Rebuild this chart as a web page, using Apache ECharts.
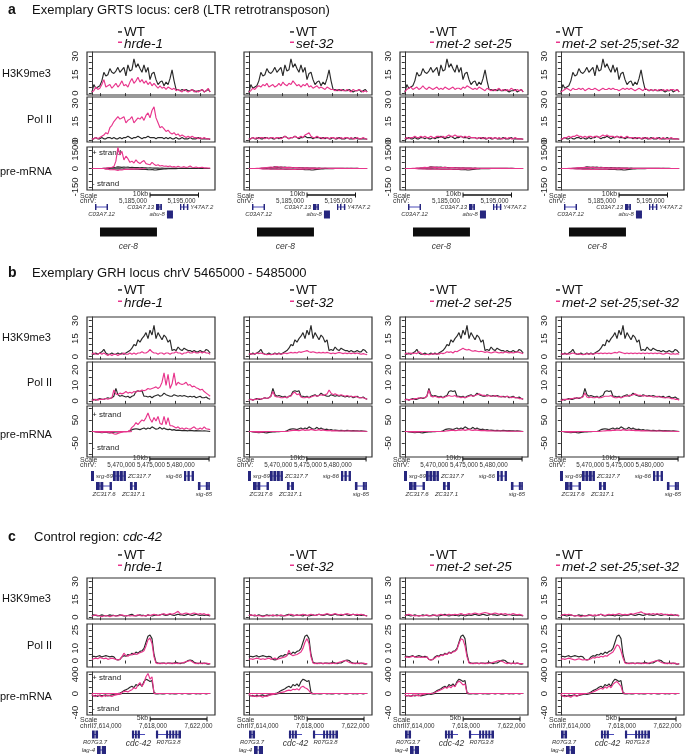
<!DOCTYPE html>
<html>
<head>
<meta charset="utf-8">
<script src="https://cdn.jsdelivr.net/npm/echarts@6.0.0/dist/echarts.min.js"></script>
<style>
html,body{margin:0;padding:0;background:#fff;}
#chart{width:685px;height:755px;}
</style>
</head>
<body>
<div id="chart"></div>
<script>
// ================= DATA =================
const mutantNames = ['hrde-1', 'set-32', 'met-2 set-25', 'met-2 set-25;set-32'];
const trackNames = ['H3K9me3', 'Pol II', 'pre-mRNA'];
const panelLetters = ['a', 'b', 'c'];
const titleA = 'Exemplary GRTS locus: cer8 (LTR retrotransposon)';
const titleB = 'Exemplary GRH locus chrV 5465000 - 5485000';
const titleC = 'Control region: ';
const titleCItalic = 'cdc-42';

// y-axis tick values / tick labels
const h3Ticks = [0, 5, 10, 15, 20, 25, 30];
const h3Labels = [0, 15, 30];
const a_polTicks = [0, 5, 10, 15, 20, 25, 30];
const a_polLabels = [0, 15, 30];
const a_preTicks = [-1500, -1000, -500, 0, 500, 1000, 1500];
const a_preLabels = [-1500, 0, 1500];
const b_polTicks = [0, 5, 10, 15, 20];
const b_polLabels = [0, 10, 20];
const b_preTicks = [-100, -50, 0, 50, 100];
const b_preLabels = [-50, 50];
const c_polTicks = [0, 5, 10, 15, 20, 25];
const c_polLabels = [0, 10, 25];
const c_preTicks = [-400, -266.7, -133.3, 0, 133.3, 266.7, 400];
const c_preLabels = [-400, 0, 400];

// ---------- Panel a : cer8 ----------
const a_h3_wt = [0.5,7,4,5,6,10,17,14,15,20, 17,16,18,21,17,19,21,14,23,18, 19,28,21,24,20,17,23,17,21,11, 16,17,11,7,9,10,6,9,7,12, 19,10,3,3,2,3,2,3,2,2, 3,2,1,2,2,3,1,2,3,1];
const a_h3_hrde1 = [1,2,5,3,4,7,11,5,6,7, 4,6,8,5,7,10,6,7,5,9, 12,8,10,13,9,11,8,10,7,9, 6,8,6,4,6,4,5,3,5,4, 3,4,2,3,2,1,3,2,1,2, 3,1,2,1,2,3,1,2,4,1];
const a_h3_set32 = [1,2,4,3,5,6,5,7,6,8, 5,6,7,5,6,8,6,9,7,6, 8,7,10,8,6,7,5,7,6,8, 5,6,4,5,6,4,5,4,3,5, 4,3,3,2,3,2,3,2,2,3, 2,1,3,2,2,3,2,1,2,1];
const a_h3_met2set25 = [1,3,4,5,3,4,5,3,4,6, 4,3,5,4,3,4,5,3,4,3, 5,4,3,4,5,3,4,4,3,5, 4,6,5,4,3,4,3,5,4,3, 2,4,3,2,3,2,3,4,2,3, 2,3,2,4,3,2,3,2,3,1];
const a_h3_triple = [1,2,3,4,3,2,4,3,3,4, 3,4,2,3,4,3,3,4,3,2, 3,4,3,3,4,3,4,3,3,2, 3,4,3,4,3,4,3,2,3,4, 3,2,4,3,2,3,2,3,2,3, 2,3,2,3,2,3,3,2,3,1];

const a_pol_wt = [1,1,2,1,1,2,1,1,2,2, 1,2,1,1,2,1,2,2,3,2, 1,2,2,3,2,1,2,2,3,2, 2,2,1,2,2,2,1,2,1,2, 1,1,2,1,1,2,1,1,1,2, 1,1,1,2,1,1,1,1,1,0.5];
const a_pol_hrde1 = [1,1,2,1,2,3,4,6,5,10, 12,15,17,19,17,18,19,14,16,17, 19,14,16,18,17,19,16,20,22,18, 24,27,18,14,10,11,9,7,8,6, 5,6,4,5,3,4,3,2,3,2, 3,2,2,1,2,1,2,1,1,1];
const a_pol_set32 = [1,1,2,1,2,1,2,2,1,2, 1,2,2,1,2,2,1,2,3,2, 1,2,2,3,2,2,3,2,4,5, 6,3,2,2,3,2,2,1,2,2, 1,2,2,1,2,1,2,1,2,2, 1,2,1,1,2,1,1,2,1,0.5];
const a_pol_met2set25 = [1,2,1,2,2,3,2,2,3,2, 3,2,2,3,2,2,3,3,2,3, 2,3,4,3,3,4,3,3,3,2, 3,2,3,2,2,2,1,2,2,1, 2,1,2,2,1,2,1,2,1,1, 2,1,2,1,1,2,1,1,1,0.5];
const a_pol_triple = [1,1,2,2,3,2,3,3,4,3, 3,2,3,2,3,3,2,3,3,2, 3,4,3,4,3,3,3,2,3,2, 3,2,2,3,2,2,2,1,2,2, 1,2,1,2,1,1,2,1,2,1, 1,2,1,1,1,2,1,1,1,0.5];

const a_pre_wt_plus = [0,0,0,0,0,0,10,20,30,40, 60,80,100,130,110,90,120,100,110,80, 90,70,80,70,60,70,60,50,40,50, 40,30,40,30,20,30,20,20,20,10, 20,10,10,10,10,10,10,5,5,10, 5,5,5,5,5,0,0,0,0,0];
const a_pre_wt_minus = [0,0,0,0,0,0,0,-1,-1,-2, -2,-3,-3,-2,-3,-4,-3,-4,-5,-4, -5,-6,-5,-6,-7,-6,-8,-7,-9,-10, -8,-11,-12,-9,-8,-6,-4,-3,-2,-2, -1,-1,-1,0];
const a_pre_hrde1_plus = [0,0,0,0,0,0,20,30,50,80, 100,150,600,1720,1100,1400,700,1000,800,500, 600,450,700,500,400,550,650,400,350,300, 500,350,250,300,200,250,180,200,150,200, 120,150,100,180,120,100,150,80,120,200, 100,80,120,60,80,100,50,60,40,30];
const a_pre_hrde1_minus = [0,0,0,0,0,0,0,-5,-5,-10, -10,-8,-12,-15,-10,-12,-8,-5,-8,-5, -3,-5,-3,-2,-3,-2,-2,0];
const a_pre_set32_plus = [0,0,0,0,10,20,30,50,60,80, 100,120,90,110,150,100,120,90,80,100, 70,90,60,80,70,50,60,40,50,60, 40,30,40,30,20,30,20,20,30,20, 10,20,10,10,20,10,10,10,0,10, 0,10,0,0,10,0,0,0,0,0];
const a_pre_set32_minus = [0,0,0,0,0,0,-2,-3,-2,-4, -3,-5,-4,-3,-5,-4,-6,-5,-4,-3, -5,-6,-8,-7,-5,-6,-4,-5,-3,-4, -2,-3,-2,-1,-2,-1,0];
const a_pre_met2set25_plus = [0,0,0,0,10,20,30,40,60,70, 90,80,100,120,90,110,80,90,70,80, 90,70,60,80,70,60,50,60,40,50, 40,30,40,30,20,30,20,20,10,20, 10,10,10,10,10,5,10,5,5,5, 5,5,0,5,0,0,0,0,0,0];
const a_pre_met2set25_minus = [0,0,0,0,0,0,-1,-2,-2,-3, -2,-4,-3,-5,-4,-3,-5,-4,-6,-5, -4,-6,-5,-7,-6,-5,-6,-4,-5,-3, -4,-3,-2,-3,-2,-1,-1,0];
const a_pre_triple_plus = [0,0,0,0,10,20,20,40,50,70, 60,80,90,70,100,80,90,70,60,80, 60,70,50,60,50,40,50,40,30,40, 30,30,20,30,20,20,10,20,10,10, 10,10,5,10,5,5,5,5,5,5, 0,5,0,0,0,0,0,0,0,0];
const a_pre_triple_minus = [0,0,0,0,0,-1,-2,-2,-3,-4, -3,-5,-4,-6,-5,-7,-6,-5,-7,-6, -5,-6,-4,-5,-4,-3,-4,-3,-2,-3, -2,-1,-2,-1,0];

// panel a genome browser track (chrV)
const a_viewStart = 5175500, a_viewEnd = 5201900;
const a_chrom = 'chrV:';
const a_scaleText = '10kb', a_scaleStart = 5188500, a_scaleEnd = 5198500;
const a_posTicks = [5185000, 5195000];
const a_geneName = ['C03A7.12', 'C03A7.13', 'Y47A7.2', 'abu-8'];
const a_geneStart = [5177150, 5189730, 5194680, 5191990];
const a_geneEnd = [5179830, 5190960, 5196400, 5193230];
const a_geneLane = [0, 0, 0, 1];
const a_geneExons = [[[5177150,5177450],[5179530,5179830]], [[5189730,5190450],[5190600,5190960]], [[5194680,5194950],[5195300,5195600],[5196100,5196400]], [[5191990,5193230]]];
const a_geneLabelSide = ['below', 'left', 'right', 'left'];
const a_repeatName = 'cer-8', a_repeatStart = 5178180, a_repeatEnd = 5189930;

// ---------- Panel b : GRH locus ----------
const b_h3_wt = [2,2,3,2,3,4,6,3,2,2, 3,2,2,3,2,3,2,3,4,5, 7,10,9,14,12,15,17,20,15,22, 18,26,15,20,17,14,18,16,12,14, 5,6,5,8,6,5,7,6,5,5, 4,5,4,4,5,4,4,6,5,3];
const b_h3_hrde1 = [2,3,2,2,3,2,3,2,1,2, 1,2,2,1,2,2,3,2,2,3, 2,3,2,3,3,4,3,3,4,6, 4,3,3,2,3,3,2,3,3,2, 3,3,4,3,3,2,3,3,4,3, 3,4,3,3,4,3,4,3,3,2];
const b_h3_set32 = [2,2.5,2,2.5,3,2.5,3,2.5,2,1.5, 2,1.5,2,2.5,2,2.5,2,2.5,3,2.5, 3,3.5,3,3.5,3,4,3.5,4,4.5,5, 4,3.5,4,3.5,3,3.5,3,3.5,3,3.5, 3,2.5,3,2.5,3,3.5,3,2.5,3,2.5, 3,2.5,3,2.5,3,2.5,2,2.5,2,1.5];
const b_h3_met2set25 = [2,3,2,3,2.5,3,2.5,4,3,2, 1.5,2,1.5,2,2.5,2,2.5,2,3,2.5, 3,4,3.5,4,3,4.5,4,5,6,7, 6,5.5,6,5,4.5,5,4.5,4,4.5,4, 3.5,4,3.5,3,3.5,4,3.5,3,3.5,3, 4,3.5,3,3.5,3,3.5,4,3.5,3,2.5];
const b_h3_triple = [2,2.5,2,2.5,2,2.5,3,2.5,2,2.5, 2,1.5,2,2.5,2,2.5,2,2.5,3,2.5, 3,2.5,3,2.5,3,2.5,3,3.5,3,4, 3.5,3,2.5,3,2.5,3,2.5,3,2.5,3, 2.5,3,2.5,3,2.5,3,2.5,3,2.5,3, 2.5,2,2.5,3,2.5,2,2.5,2,2.5,2];

const b_pol_wt = [0.5,1,0.5,1,1.5,1,1,1.5,2,1.5, 2,3,8,4,3,3.5,3,2.5,3,2, 3,3.5,6,6.5,6,6.5,3,3,2.5,3, 2,3,3.5,4,3,3.5,5,4,3.5,3, 3,4,3.5,3,3.5,3,3.5,3,2.5,3, 2.5,3,2,2.5,3,2,2,2.5,1.5,1];
const b_pol_hrde1 = [0.5,0.5,1,0.5,1,1,1,1.5,1,1.5, 2,7,4.5,4,5,4.5,5,6,5,5.5, 5,6,5.5,6.5,6,7,6.5,7,8,7.5, 8,8.5,9,8,9,12,18,10,17,8, 11,18,10,12,11,10.5,11,12,10,10.5, 9,9.5,8.5,8,7,7.5,6,5,4,3];
const b_pol_set32 = [0.5,1,0.5,1,1,1.5,1,1.5,2,1.5, 2,3,6,3,2.5,2.5,2,2,2.5,2, 3,3,5,5.5,4,4.5,2.5,2,2,2.5, 2,2.5,3,3.5,3,3.5,4,3.5,4,4.5, 7,5,4,4.5,4,3.5,4,3.5,3,3.5, 3,3,2.5,3,2.5,2,2,2,1.5,1];
const b_pol_met2set25 = [0.5,1,0.5,1,1,1.5,1.5,2,1.5,2, 2,3,7,3,2.5,3,2.5,2,2.5,2, 2.5,3,3.5,3,3,3.5,2.5,2.5,2,2.5, 2,2.5,3,3.5,3,3.5,4,4.5,4,3.5, 3.5,3,3.5,3,3,3.5,3,2.5,3,2.5, 2.5,3,2.5,2,2.5,2,2,1.5,1.5,1];
const b_pol_triple = [0.5,0.5,1,1,1,1.5,1.5,2,1.5,2, 2,2.5,5,2.5,2,2.5,2,2,2.5,2, 2,2.5,3,3,3,3.5,2.5,2,2,2.5, 2,2.5,3,3,3.5,3.5,4,4.5,4,3.5, 3.5,3,3.5,3,3,3,2.5,2.5,3,2.5, 2.5,2,2,2,2,1.5,1.5,1,1,0.5];

const b_pre_wt_plus = [0,0,0,0,0,0,0,0,0,0, 0,0,0,0,0,0,0,0,0,3, 8,10,12,10,8,12,15,10,15,12, 20,15,10,12,18,10,15,10,8,10, 6,8,5,6,5,4,5,4,3,5, 4,3,4,3,3,2,3,2,1,0];
const b_pre_wt_minus = [0,0,-2,-3,-4,-5,-4,-3,-5,-6, -4,-3,-2,-2,-1,-1,0];
const b_pre_hrde1_plus = [0,0,0,0,0,0,0,0,0,0, 0,0,0,0,0,0,0,0,0,5, 18,25,38,30,40,50,45,60,80,55, 40,60,45,65,35,30,65,30,60,25, 25,20,15,20,12,15,10,15,12,10, 15,20,12,10,15,10,20,12,10,8];
const b_pre_hrde1_minus = [0,0,-2,-3,-2,-4,-3,-2,-3,-5, -6,-10,-12,-8,-5,-3,-2,-2,-1,-1,0];
const b_pre_set32_plus = [0,0,0,0,0,0,0,0,0,0, 0,0,0,0,0,0,0,0,0,0, 2,4,5,6,5,4,6,8,5,7, 6,9,7,5,6,8,5,7,5,4, 5,3,4,3,3,3,2,3,2,2, 3,2,2,2,2,1,1,1,1,0];
const b_pre_set32_minus = [0,0,-1,-2,-3,-2,-3,-2,-1,-1,0];
const b_pre_met2set25_plus = [0,0,0,0,0,0,0,0,0,0, 0,0,0,0,0,0,0,0,0,0, 1,3,4,5,6,4,5,7,6,8, 5,7,9,6,5,7,6,5,4,5, 4,3,4,3,2,3,2,3,2,2, 2,1,2,1,1,1,1,1,0,0];
const b_pre_met2set25_minus = [0,0,-1,-2,-2,-3,-2,-2,-1,0];
const b_pre_triple_plus = [0,0,0,0,0,0,0,0,0,0, 0,0,0,0,0,0,0,0,0,0, 1,2,3,4,5,4,6,5,7,6, 5,8,6,5,7,5,6,4,5,4, 3,4,3,3,2,3,2,2,3,2, 2,1,2,1,1,1,1,0,0,0];
const b_pre_triple_minus = [0,0,-1,-2,-3,-3,-2,-2,-1,-1,0];

// panel b genome browser track (chrV)
const b_viewStart = 5464200, b_viewEnd = 5485800;
const b_chrom = 'chrV:';
const b_scaleText = '10kb', b_scaleStart = 5474800, b_scaleEnd = 5484800;
const b_posTicks = [5470000, 5475000, 5480000];
const b_geneName = ['srg-69', 'ZC317.7', 'ZC317.6', 'ZC317.1', 'sig-66', 'sig-65'];
const b_geneStart = [5464870, 5468580, 5465720, 5471450, 5480570, 5482920];
const b_geneEnd = [5465380, 5470770, 5468410, 5472630, 5482250, 5484940];
const b_geneLane = [0, 0, 1, 1, 0, 1];
const b_geneExons = [[[5464870,5465380]], [[5468580,5469050],[5469150,5469650],[5469750,5470250],[5470350,5470770]], [[5465720,5466350],[5466450,5466950],[5468000,5468410]], [[5471450,5471900],[5472150,5472630]], [[5480570,5480950],[5481150,5481550],[5481850,5482250]], [[5482920,5483350],[5484250,5484600],[5484650,5484940]]];
const b_geneLabelSide = ['right', 'right', 'below', 'below', 'left', 'below'];

// ---------- Panel c : cdc-42 control ----------
const c_h3_wt = [1.5,2,1.5,1,1.5,2,1.5,1,1.5,2, 1.5,1.5,1,1.5,2,1.5,1,1,1.5,2, 2.5,1.5,1,1.5,2,1.5,1.5,1,2,1.5, 1,1.5,2,1.5,2,2.5,2,1.5,2,2.5, 2,1.5,2,2.5,2,2,1.5,2,2.5,2, 1.5,2,2.5,2,1.5,2,1.5,2,1.5,1];
const c_h3_hrde1 = [1,1.5,2,1.5,1,0.5,1,1.5,1,0.5, 1,1.5,1,1,1.5,2,1.5,1,1.5,1, 1.5,1,1.5,2,1.5,1,1.5,1,2,1.5, 2,2.5,2,1.5,2,2.5,3,2,2.5,3, 2.5,3,4,5,3,2.5,3,3.5,3,2.5, 3,3.5,3,2.5,3,2.5,3,2,2.5,1.5];
const c_h3_set32 = [1.5,2,1.5,2,1,1.5,1,0.5,1,1.5, 1,1.5,2,1.5,1,1.5,2,1.5,1,1.5, 2,2.5,2,1.5,2,1.5,2,2.5,2,1.5, 2,2.5,2,1.5,2,2.5,2,2,2.5,3, 2.5,2,2.5,3,2.5,2,2.5,2,2.5,3, 2.5,2,2.5,2,2.5,2,2.5,2,1.5,1];
const c_h3_met2set25 = [1.5,2,2.5,2,1.5,1,1.5,1,1.5,1, 1.5,2,1.5,1,1.5,2,1.5,2,2.5,2, 1.5,2,2.5,2,2,2.5,2,2.5,3,2.5, 2,2.5,3,2.5,3,3.5,3,2.5,3,3.5, 4,3.5,3,2.5,3,3.5,3,2.5,3,2.5, 3,2.5,2,2.5,3,2.5,2,2.5,2,1.5];
const c_h3_triple = [1.5,2,2.5,2,2.5,2,1.5,1,1.5,1, 0.5,1,1.5,1,1.5,2,1.5,2,1.5,2, 2.5,2,1.5,2,2.5,2,2.5,2,2.5,3, 2.5,2,2.5,2,2.5,3,2.5,3,3.5,4, 4.5,3.5,3,2.5,3,2.5,3,2.5,3,2.5, 3,2.5,2,2.5,2,2.5,2,1.5,2,1.5];

const c_pol_wt = [3,3.5,3,3.5,4,3,3.5,4,3.5,3, 3.5,3,1,0.5,1,3,4,3.5,5,4.5, 6,5,7,6,7.5,8,10,15,20,21, 18,5,-1.5,-2,-2.5,-2,-2,-2.5,-2,-2, -2.5,-2,-1.5,-2,-2.5,-2,-2,-1,0,0.5, 0,-1.5,-2,-2.5,-2,-2.5,-2,-2.5,-3,-2.5];
const c_pol_hrde1 = [1,1.5,2,1.5,2.5,2,1.5,2,1,1.5, 2,1.5,1,0.5,1,3,6,4,3.5,5, 4.5,6,5,5.5,6.5,7,8,12,17,18.5, 14,3,-2,-2.5,-2,-2.5,-2,-2.5,-2,-2.5, -2,-2.5,-2,-2.5,-2,-2,-1.5,-1,-0.5,0, -1,-2,-2.5,-2,-2.5,-2,-2.5,-2,-2.5,-2.5];
const c_pol_set32 = [1,1.5,1,1.5,2,1.5,1,1.5,1,1.5, 2,1,1.5,2,1,1.5,2,2.5,3,4, 8.5,5,4,4.5,5,6,7,10,15,18, 14,3,-2,-2.5,-2,-2.5,-2,-2.5,-2,-2.5, -2,-2.5,-2,-2.5,-2,-1.5,-1,-0.5,0,-0.5, -1.5,-2,-2.5,-2,-2.5,-2,-2.5,-2,-2.5,-2.5];
const c_pol_met2set25 = [2.5,3,2.5,3,3.5,3,2.5,3,2.5,3, 2.5,3,1,0.5,1,2,3.5,3,4.5,4, 5.5,5,6.5,6,7,7.5,9,14,18,17, 12,3,-2,-2.5,-2,-2.5,-2,-2.5,-2,-2.5, -2,-2.5,-2,-2,-1.5,-1,-0.5,0,-0.5,-1, -2,-2.5,-2,-2.5,-2,-2.5,-2,-2.5,-2.5,-2.5];
const c_pol_triple = [1,1.5,1,1.5,2,1.5,1,0.5,1,1.5, 1,0.5,1,0.5,1,1.5,2.5,2,3,2.5, 3.5,3,4,3.5,5,6,7,10,13,12, 8,2,-2,-2.5,-2,-2.5,-2,-2.5,-2,-2.5, -2,-2.5,-2,-2.5,-2,-1.5,-1,-0.5,0,-0.5, -1.5,-2,-2.5,-2,-2.5,-2,-2.5,-2,-3,-2.5];

const c_pre_wt_plus = [0,0,0,0,0,0,0,0,0,0, 0,0,0,0,10,30,60,80,100,130, 150,120,190,160,200,150,250,300,280,250, 270,20,0,0,0,0,0,0,0,0, 0,0,0,0,0,0,0,0,0,0, 0,0,0,0,0,0,0,0,0,0];
const c_pre_wt_minus = [-3,-5,-4,-6,-3,-5,-4,-3,-5,-4, -3,-2,-1,-2,-1,0,0,0,0,0, 0,0,0,0,0,0,0,0,0,0, 0,0,-1,-1,0,-1,-1,0,0,-1, 0,-1,-1,0,0,-1,0,0,-1,-1, 0,0,-1,0,-1,0,0,-1,0,0];
const c_pre_hrde1_plus = [0,0,0,0,0,0,0,0,0,0, 0,0,0,0,0,20,40,50,30,60, 80,120,100,180,230,150,220,350,420,300, 350,0,0,0,0,0,0,0,0,0, 0,0,0,0,0,0,0,0,0,0, 0,0,0,0,0,0,0,0,0,0];
const c_pre_hrde1_minus = [-2,-5,-6,-3,-5,-7,-4,-6,-3,-5, -6,-4,-3,-2,-1,0];
const c_pre_set32_plus = [0,0,0,0,0,0,0,0,0,0, 0,0,0,0,0,10,20,30,40,60, 70,60,90,80,100,70,130,150,120,100, 60,0,0,0,0,0,0,0,0,0, 0,0,0,0,0,0,0,0,0,0, 0,0,0,0,0,0,0,0,0,0];
const c_pre_set32_minus = [-2,-4,-6,-5,-7,-4,-6,-8,-5,-6, -4,-3,-2,-1,0];
const c_pre_met2set25_plus = [0,0,0,0,0,0,0,0,0,0, 0,0,0,0,5,20,40,60,80,100, 130,110,150,120,170,140,220,260,230,180, 200,10,0,0,0,0,0,0,0,0, 0,0,0,0,0,0,0,0,0,0, 0,0,0,0,0,0,0,0,0,0];
const c_pre_met2set25_minus = [-3,-5,-4,-6,-5,-3,-4,-5,-3,-2, -1,0];
const c_pre_triple_plus = [0,0,0,0,0,0,0,0,0,0, 0,0,0,0,5,15,30,50,70,90, 110,90,140,110,160,120,190,230,250,200, 150,10,0,0,0,0,0,0,0,0, 0,0,0,0,0,0,0,0,0,0, 0,0,0,0,0,0,0,0,0,0];
const c_pre_triple_minus = [-2,-5,-7,-4,-6,-8,-5,-4,-6,-3, -2,-1,0];

// panel c genome browser track (chrII)
const c_viewStart = 7612200, c_viewEnd = 7623450;
const c_chrom = 'chrII:';
const c_scaleText = '5kb', c_scaleStart = 7617750, c_scaleEnd = 7622750;
const c_posTicks = [7614000, 7618000, 7622000];
const c_geneName = ['R07G3.7', 'cdc-42', 'R07G3.8', 'lag-4'];
const c_geneStart = [7612640, 7616150, 7618260, 7613080];
const c_geneEnd = [7613170, 7617300, 7620460, 7613870];
const c_geneLane = [0, 0, 0, 1];
const c_geneExons = [[[7612640,7612880],[7612940,7613170]], [[7616150,7616330],[7616400,7616580],[7616650,7616850]], [[7618260,7618450],[7619150,7619330],[7619420,7619600],[7619690,7619870],[7619960,7620140],[7620230,7620460]], [[7613080,7613400],[7613500,7613870]]];
const c_geneLabelSide = ['below', 'below', 'below', 'left'];

// ================= ASSEMBLY =================
const FONT = '"Liberation Sans", Arial, Helvetica, sans-serif';
const WT_COLOR = '#2a2a2a';
const MUT_COLOR = '#e8358c';
const GENE_FILL = '#26267e';
const GENE_LINE = '#4a4ab8';
const COLS = [87, 244, 400, 556];
const COLW = 128;
const XMIN = -2.4, XMAX = 61.4;
const XTICKS = [4, 16.5, 29, 41.5, 54];
const HEADER_X = [118, 290, 430, 556];
const ROW_LABEL_X = [2, 27, 0];

const PANELS = {
  a: {
    title: [{t: titleA, i: false}], titleY: 10, headerY: [32, 44],
    rows: [[52, 43], [97, 45], [147, 43]],
    axes: [
      {min: -1.5, max: 33.5, ticks: h3Ticks, labels: h3Labels},
      {min: -1.6, max: 35, ticks: a_polTicks, labels: a_polLabels},
      {min: -1750, max: 1750, ticks: a_preTicks, labels: a_preLabels}
    ],
    minusScale: 10, strandDy: [6, 6],
    data: {
      h3: {wt: a_h3_wt, mut: [a_h3_hrde1, a_h3_set32, a_h3_met2set25, a_h3_triple]},
      pol: {wt: a_pol_wt, mut: [a_pol_hrde1, a_pol_set32, a_pol_met2set25, a_pol_triple]},
      pre: {wtPlus: a_pre_wt_plus, wtMinus: a_pre_wt_minus,
            mutPlus: [a_pre_hrde1_plus, a_pre_set32_plus, a_pre_met2set25_plus, a_pre_triple_plus],
            mutMinus: [a_pre_hrde1_minus, a_pre_set32_minus, a_pre_met2set25_minus, a_pre_triple_minus]}
    },
    gene: {top: 191, h: 62, scaleY: 4, posY: 10, laneY: [16, 23.5], exonH: [6, 8],
      view: [a_viewStart, a_viewEnd], chrom: a_chrom, scaleText: a_scaleText, scale: [a_scaleStart, a_scaleEnd], pos: a_posTicks,
      name: a_geneName, start: a_geneStart, end: a_geneEnd, lane: a_geneLane, exons: a_geneExons, side: a_geneLabelSide,
      repeat: {name: a_repeatName, start: a_repeatStart, end: a_repeatEnd, y: 41, h: 9, labelY: 56}}
  },
  b: {
    title: [{t: titleB, i: false}], titleY: 273, headerY: [290, 303],
    rows: [[317, 42], [362, 42], [406, 51]],
    axes: [
      {min: -2, max: 33, ticks: h3Ticks, labels: h3Labels},
      {min: -2, max: 25, ticks: b_polTicks, labels: b_polLabels},
      {min: -110, max: 110, ticks: b_preTicks, labels: b_preLabels}
    ],
    minusScale: 1, strandDy: [9, 9],
    data: {
      h3: {wt: b_h3_wt, mut: [b_h3_hrde1, b_h3_set32, b_h3_met2set25, b_h3_triple]},
      pol: {wt: b_pol_wt, mut: [b_pol_hrde1, b_pol_set32, b_pol_met2set25, b_pol_triple]},
      pre: {wtPlus: b_pre_wt_plus, wtMinus: b_pre_wt_minus,
            mutPlus: [b_pre_hrde1_plus, b_pre_set32_plus, b_pre_met2set25_plus, b_pre_triple_plus],
            mutMinus: [b_pre_hrde1_minus, b_pre_set32_minus, b_pre_met2set25_minus, b_pre_triple_minus]}
    },
    gene: {top: 457, h: 45, scaleY: 2, posY: 8, laneY: [19, 29], exonH: [10, 8],
      view: [b_viewStart, b_viewEnd], chrom: b_chrom, scaleText: b_scaleText, scale: [b_scaleStart, b_scaleEnd], pos: b_posTicks,
      name: b_geneName, start: b_geneStart, end: b_geneEnd, lane: b_geneLane, exons: b_geneExons, side: b_geneLabelSide}
  },
  c: {
    title: [{t: titleC, i: false}, {t: titleCItalic, i: true}], titleY: 537, headerY: [555, 567],
    rows: [[578, 41], [624, 43], [672, 43]],
    axes: [
      {min: -1.5, max: 33, ticks: h3Ticks, labels: h3Labels},
      {min: -5.3, max: 30, ticks: c_polTicks, labels: c_polLabels},
      {min: -450, max: 450, ticks: c_preTicks, labels: c_preLabels}
    ],
    minusScale: 10, strandDy: [6, 6],
    data: {
      h3: {wt: c_h3_wt, mut: [c_h3_hrde1, c_h3_set32, c_h3_met2set25, c_h3_triple]},
      pol: {wt: c_pol_wt, mut: [c_pol_hrde1, c_pol_set32, c_pol_met2set25, c_pol_triple]},
      pre: {wtPlus: c_pre_wt_plus, wtMinus: c_pre_wt_minus,
            mutPlus: [c_pre_hrde1_plus, c_pre_set32_plus, c_pre_met2set25_plus, c_pre_triple_plus],
            mutMinus: [c_pre_hrde1_minus, c_pre_set32_minus, c_pre_met2set25_minus, c_pre_triple_minus]}
    },
    gene: {top: 715, h: 40, scaleY: 4, posY: 11, laneY: [19.5, 35], exonH: [8, 8], emph: 'cdc-42',
      view: [c_viewStart, c_viewEnd], chrom: c_chrom, scaleText: c_scaleText, scale: [c_scaleStart, c_scaleEnd], pos: c_posTicks,
      name: c_geneName, start: c_geneStart, end: c_geneEnd, lane: c_geneLane, exons: c_geneExons, side: c_geneLabelSide}
  }
};

function txtEl(t, x, y, align, size, italic, color, bold) {
  return {type: 'text', silent: true, style: {text: t, x: x, y: y, align: align, textAlign: align,
    verticalAlign: 'middle', textVerticalAlign: 'middle', fontSize: size, fontFamily: FONT,
    fontStyle: italic ? 'italic' : 'normal', fontWeight: bold ? 'bold' : 'normal', fill: color || '#222'}};
}
function lineEl(x1, y1, x2, y2, w, color) {
  return {type: 'line', silent: true, shape: {x1: x1, y1: y1, x2: x2, y2: y2}, style: {stroke: color || '#111', lineWidth: w}};
}

const grids = [], xAxes = [], yAxes = [], series = [], graphics = [];

function lineSeries(arr, gi, color, z, scale) {
  const s = scale || 1;
  return {type: 'line', xAxisIndex: gi, yAxisIndex: gi, data: arr.map((v, i) => [i, v * s]),
    showSymbol: false, symbol: 'none', silent: true, animation: false, z: z,
    lineStyle: {color: color, width: 1.15}, itemStyle: {color: color}};
}

function geneRender(G) {
  return function (params, api) {
    const i = api.value(2);
    const lane = G.lane[i];
    const yc = api.coord([G.start[i], G.laneY[lane]])[1];
    const h = G.exonH[lane];
    const x0 = api.coord([G.start[i], 0])[0];
    const x1 = api.coord([G.end[i], 0])[0];
    const ch = [lineEl(x0, yc, x1, yc, 1, GENE_LINE)];
    G.exons[i].forEach(function (ex) {
      const a = api.coord([ex[0], 0])[0], b = api.coord([ex[1], 0])[0];
      ch.push({type: 'rect', silent: true, shape: {x: a, y: yc - h / 2, width: Math.max(1.3, b - a), height: h}, style: {fill: GENE_FILL}});
    });
    const emph = G.emph === G.name[i];
    const fs = emph ? 8.5 : 6;
    const side = G.side[i];
    if (side === 'below') ch.push(txtEl(G.name[i], (x0 + x1) / 2, yc + h / 2 + (emph ? 5 : 4), 'center', fs, true, '#333'));
    else if (side === 'left') ch.push(txtEl(G.name[i], x0 - 2, yc, 'right', fs, true, '#333'));
    else ch.push(txtEl(G.name[i], x1 + 2, yc, 'left', fs, true, '#333'));
    return {type: 'group', children: ch};
  };
}

function scaleRender(G) {
  return function (params, api) {
    const cs = params.coordSys;
    const yS = api.coord([G.view[0], G.scaleY])[1];
    const yP = api.coord([G.view[0], G.posY])[1];
    const xs = api.coord([G.scale[0], G.scaleY])[0];
    const xe = api.coord([G.scale[1], G.scaleY])[0];
    const ch = [];
    ch.push(txtEl('Scale', cs.x - 7, yS + 1, 'left', 7, false, '#333'));
    ch.push(txtEl(G.chrom, cs.x - 7, yP, 'left', 7, false, '#333'));
    ch.push(lineEl(xs, yS, xe, yS, 1.4, '#111'));
    ch.push(lineEl(xs, yS - 2.5, xs, yS + 2.5, 1, '#111'));
    ch.push(lineEl(xe, yS - 2.5, xe, yS + 2.5, 1, '#111'));
    ch.push(txtEl(G.scaleText, xs - 2, yS - 1, 'right', 7, false, '#333'));
    G.pos.forEach(function (p) {
      const x = api.coord([p, G.posY])[0];
      ch.push(txtEl(p.toLocaleString('en-US'), x, yP, 'center', 6.3, false, '#333'));
    });
    return {type: 'group', children: ch};
  };
}

function repeatRender(G) {
  return function (params, api) {
    const R = G.repeat;
    const x0 = api.coord([R.start, R.y])[0];
    const x1 = api.coord([R.end, R.y])[0];
    const yc = api.coord([R.start, R.y])[1];
    const yl = api.coord([R.start, R.labelY])[1];
    return {type: 'group', children: [
      {type: 'rect', silent: true, shape: {x: x0, y: yc - R.h / 2, width: x1 - x0, height: R.h}, style: {fill: '#0d0d0d'}},
      txtEl(R.name, (x0 + x1) / 2, yl, 'center', 8.5, true, '#333')
    ]};
  };
}

['a', 'b', 'c'].forEach(function (pk, pi) {
  const P = PANELS[pk];
  // titles
  graphics.push(txtEl(panelLetters[pi], 8, P.titleY, 'left', 14, false, '#111', true));
  if (P.title.length === 1) {
    graphics.push(txtEl(P.title[0].t, 32, P.titleY, 'left', 13, false, '#111'));
  } else {
    graphics.push({type: 'text', silent: true, style: {
      text: '{n|' + P.title[0].t + '}{i|' + P.title[1].t + '}', x: 34, y: P.titleY,
      align: 'left', textAlign: 'left', verticalAlign: 'middle', textVerticalAlign: 'middle',
      rich: {n: {fontSize: 13, fontFamily: FONT, fill: '#111'}, i: {fontSize: 13, fontFamily: FONT, fontStyle: 'italic', fill: '#111'}}}});
  }
  // row labels
  P.rows.forEach(function (r, ri) {
    graphics.push(txtEl(trackNames[ri], ROW_LABEL_X[ri], r[0] + r[1] / 2 + (ri === 2 ? 3 : 0), 'left', 11, false, '#111'));
  });
  const trackKeys = ['h3', 'pol', 'pre'];
  for (let c = 0; c < 4; c++) {
    const left = COLS[c];
    // header legend
    graphics.push({type: 'rect', silent: true, shape: {x: HEADER_X[c], y: P.headerY[0] - 0.8, width: 4, height: 1.5}, style: {fill: WT_COLOR}});
    graphics.push(txtEl('WT', HEADER_X[c] + 6, P.headerY[0], 'left', 13.5, false, '#111'));
    graphics.push({type: 'rect', silent: true, shape: {x: HEADER_X[c], y: P.headerY[1] - 2.5, width: 4, height: 1.5}, style: {fill: MUT_COLOR}});
    graphics.push(txtEl(mutantNames[c], HEADER_X[c] + 6, P.headerY[1], 'left', 13.5, true, '#111'));

    P.rows.forEach(function (r, ri) {
      const gi = grids.length;
      const ax = P.axes[ri];
      grids.push({left: left, top: r[0], width: COLW, height: r[1], show: true, borderColor: '#333', borderWidth: 1.2, backgroundColor: 'transparent'});
      xAxes.push({gridIndex: gi, type: 'value', min: XMIN, max: XMAX, position: 'bottom',
        axisLine: {show: false}, splitLine: {show: false}, axisLabel: {show: false},
        axisTick: {show: ri < 2, length: 3, customValues: XTICKS, lineStyle: {color: '#333', width: 1}}});
      const ms = P.minusScale;
      yAxes.push({gridIndex: gi, type: 'value', min: ax.min, max: ax.max, offset: 2,
        splitLine: {show: false},
        axisLine: {show: true, lineStyle: {color: '#333', width: 1}},
        axisTick: {show: true, length: 3, customValues: ax.ticks, lineStyle: {color: '#333', width: 1}},
        axisLabel: {show: c !== 1, customValues: ax.labels, rotate: 90, fontSize: 9.5, margin: 5, color: '#222', fontFamily: FONT,
          formatter: function (v) { return v < 0 ? String(Math.round(v / ms)) : String(Math.round(v)); }}});
      const D = P.data[trackKeys[ri]];
      if (ri < 2) {
        series.push(lineSeries(D.wt, gi, WT_COLOR, 2));
        series.push(lineSeries(D.mut[c], gi, MUT_COLOR, 3));
      } else {
        series.push(lineSeries(D.wtPlus, gi, WT_COLOR, 2));
        series.push(lineSeries(D.wtMinus, gi, WT_COLOR, 2, ms));
        series.push(lineSeries(D.mutPlus[c], gi, MUT_COLOR, 3));
        series.push(lineSeries(D.mutMinus[c], gi, MUT_COLOR, 3, ms));
        if (c === 0) {
          graphics.push(txtEl('+ strand', left + 5, r[0] + P.strandDy[0], 'left', 8, false, '#222'));
          graphics.push(txtEl('- strand', left + 5, r[0] + r[1] - P.strandDy[1], 'left', 8, false, '#222'));
        }
      }
    });

    // gene / browser grid
    const G = P.gene;
    const gg = grids.length;
    grids.push({left: left, top: G.top, width: COLW, height: G.h, show: false});
    xAxes.push({gridIndex: gg, type: 'value', min: G.view[0], max: G.view[1], show: false});
    yAxes.push({gridIndex: gg, type: 'value', min: 0, max: G.h, inverse: true, show: false});
    series.push({type: 'custom', xAxisIndex: gg, yAxisIndex: gg, silent: true, animation: false, clip: false,
      renderItem: scaleRender(G), data: [[G.view[0], 0, 0]]});
    series.push({type: 'custom', xAxisIndex: gg, yAxisIndex: gg, silent: true, animation: false, clip: false,
      renderItem: geneRender(G), data: G.name.map(function (n, i) { return [G.start[i], G.laneY[G.lane[i]], i]; })});
    if (G.repeat) {
      series.push({type: 'custom', xAxisIndex: gg, yAxisIndex: gg, silent: true, animation: false, clip: false,
        renderItem: repeatRender(G), data: [[G.repeat.start, G.repeat.y, 0]]});
    }
  }
});

const chart = echarts.init(document.getElementById('chart'), null, {renderer: 'canvas'});
chart.setOption({
  backgroundColor: '#ffffff',
  animation: false,
  textStyle: {fontFamily: FONT},
  grid: grids,
  xAxis: xAxes,
  yAxis: yAxes,
  series: series,
  graphic: graphics
});
</script>
</body>
</html>
